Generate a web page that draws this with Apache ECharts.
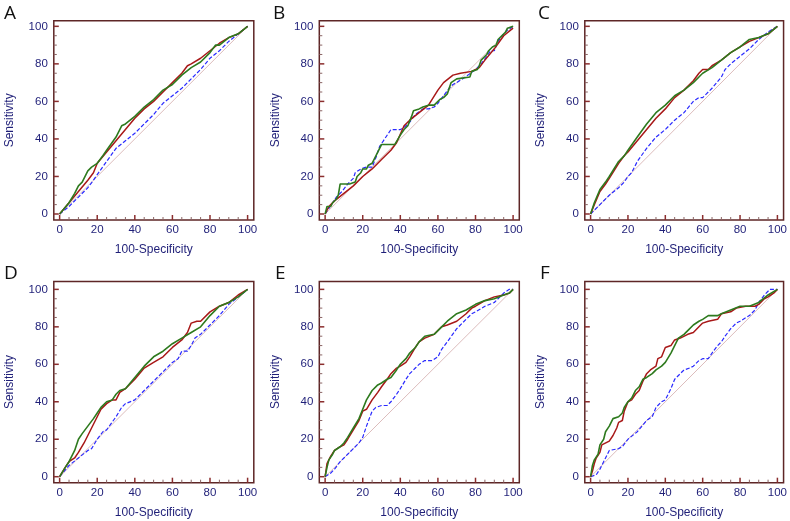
<!DOCTYPE html>
<html><head><meta charset="utf-8">
<script src="https://cdn.jsdelivr.net/npm/echarts@6/dist/echarts.min.js"></script>
<style>html,body{margin:0;padding:0;background:#fff}#c{width:790px;height:521px}</style>
</head><body><div id="c"></div>
<script>
const panelLetters = ['A','B','C','D','E','F'];
const majorTicks = [0,20,40,60,80,100];
const minorTicks = [5,10,15,25,30,35,45,50,55,65,70,75,85,90,95];
const xTitle = '100-Specificity';
const yTitle = 'Sensitivity';
const diagonal = [[0,0],[100,100]];

const aGreen = [[0,0],[5,6],[8,11],[10,15],[12,17],[15,23],[17,25],[20,27],[23,31],[25,34],[30,41],[33,47],[35,48],[40,52],[45,57],[50,61],[55,66],[60,69],[65,74],[70,78],[75,81],[80,86],[83,90],[85,90],[90,94],[95,96],[100,100]];
const aRed = [[0,0],[5,6],[10,12],[15,18],[18,22],[20,27],[25,33],[30,39],[35,45],[40,51],[45,56],[50,60],[55,65],[60,70],[65,75],[68,79],[70,80],[75,83],[80,87],[85,91],[90,94],[95,96],[100,100]];
const aBlue = [[0,0],[5,4],[10,9],[15,14],[18,18],[20,21],[25,28],[30,35],[35,39],[40,43],[45,48],[50,53],[55,59],[60,63],[65,67],[70,72],[75,77],[80,83],[85,87],[90,92],[95,96],[100,100]];

const bRed = [[0,0],[2,4],[5,7],[10,11],[15,15],[20,20],[25,24],[30,29],[35,34],[38,38],[42,47],[45,50],[50,54],[55,58],[60,66],[63,70],[68,74],[72,75],[78,76],[82,78],[85,82],[90,88],[95,95],[100,99]];
const bGreen = [[0,0],[1,4],[3,4],[4,6],[6,8],[7,10],[8,16],[13,16],[13,17],[16,17],[17,20],[19,22],[20,24],[22,24],[23,26],[25,27],[26,29],[27,31],[28,33],[29,35],[30,37],[37,37],[40,42],[42,45],[44,47],[46,52],[47,55],[50,56],[52,57],[55,58],[58,58],[59,59],[61,61],[63,62],[65,64],[66,67],[67,70],[68,71],[70,72],[77,73],[78,76],[81,77],[82,79],[83,82],[86,85],[87,87],[89,89],[91,90],[92,93],[94,95],[96,97],[97,99],[98,100],[100,100]];
const bBlue = [[0,0],[2,3],[4,6],[6,9],[9,12],[12,16],[15,19],[16,22],[19,24],[22,25],[25,25],[27,30],[29,36],[31,39],[35,45],[40,45],[42,46],[45,49],[48,53],[52,56],[55,56],[58,57],[60,59],[63,63],[66,67],[68,69],[70,70],[73,72],[76,74],[80,77],[83,80],[86,84],[88,87],[90,87],[92,92],[95,96],[97,98],[100,100]];

const cGreen = [[0,0],[2,6],[5,13],[8,17],[10,20],[15,28],[18,31],[20,34],[25,41],[30,48],[35,54],[40,58],[45,63],[50,66],[55,70],[58,73],[60,75],[65,78],[70,82],[75,86],[80,89],[85,93],[90,94],[95,96],[100,100]];
const cRed = [[0,0],[2,5],[5,12],[8,16],[10,19],[15,27],[18,31],[20,33],[25,39],[30,45],[35,51],[40,56],[45,62],[50,66],[55,71],[58,75],[60,77],[63,77],[65,79],[70,82],[75,86],[80,89],[85,92],[90,94],[95,96],[100,100]];
const cBlue = [[0,0],[5,5],[10,10],[15,14],[18,17],[20,20],[22,22],[25,28],[30,35],[35,41],[40,45],[45,50],[50,54],[55,60],[58,62],[60,62],[62,64],[65,67],[70,73],[72,77],[75,80],[80,84],[85,88],[90,93],[95,97],[100,100]];

const dGreen = [[0,0],[3,5],[5,8],[8,14],[10,20],[12,23],[15,27],[18,31],[20,34],[22,37],[25,40],[28,41],[30,44],[32,46],[35,47],[40,53],[45,59],[50,64],[55,67],[60,71],[65,74],[70,77],[75,80],[80,86],[85,91],[90,93],[95,96],[100,100]];
const dRed = [[0,0],[3,5],[5,8],[8,10],[10,13],[13,18],[15,22],[18,28],[20,32],[22,36],[25,39],[28,41],[30,41],[32,45],[35,47],[40,52],[45,58],[50,61],[55,64],[60,69],[65,73],[68,77],[70,82],[73,83],[75,83],[80,88],[85,91],[90,93],[95,97],[100,100]];
const dBlue = [[0,0],[5,6],[10,10],[15,14],[17,15],[20,20],[23,24],[25,25],[30,32],[33,37],[35,39],[40,41],[45,46],[50,51],[55,56],[60,61],[63,63],[65,67],[68,67],[70,70],[72,74],[75,76],[80,81],[85,86],[90,92],[95,96],[100,100]];

const eGreen = [[0,0],[1,5],[2,9],[3,10],[4,12],[5,14],[8,16],[10,18],[12,21],[15,26],[18,31],[20,36],[22,41],[25,46],[28,49],[30,50],[33,52],[35,53],[38,57],[40,60],[43,63],[45,66],[48,69],[50,72],[53,75],[58,76],[60,78],[62,80],[65,83],[70,87],[75,89],[80,92],[85,94],[90,95],[95,97],[98,98],[100,100]];
const eRed = [[0,0],[1,7],[2,9],[3,11],[5,14],[8,16],[10,17],[12,20],[15,25],[18,30],[20,35],[22,36],[25,41],[28,45],[30,48],[33,52],[35,55],[38,58],[40,59],[43,61],[45,64],[48,69],[50,72],[53,74],[58,76],[60,78],[62,80],[65,81],[70,83],[75,87],[78,90],[80,91],[85,94],[90,96],[95,97],[98,98],[100,100]];
const eBlue = [[0,0],[3,2],[5,4],[8,8],[10,10],[12,12],[15,15],[18,18],[20,21],[22,27],[25,35],[27,37],[30,38],[33,38],[35,40],[38,44],[40,47],[43,52],[45,55],[48,58],[50,60],[53,62],[57,62],[60,64],[62,68],[65,72],[70,79],[75,84],[78,87],[80,88],[85,91],[90,93],[95,98],[98,100],[100,100]];

const fRed = [[0,0],[1,3],[2,7],[3,10],[5,13],[6,17],[7,18],[10,19],[12,22],[14,26],[15,29],[17,30],[18,35],[20,40],[22,41],[24,44],[26,46],[28,51],[30,55],[32,57],[35,59],[36,63],[38,64],[40,69],[43,70],[45,73],[48,74],[52,76],[55,77],[58,80],[60,82],[63,83],[68,84],[70,87],[75,88],[78,90],[83,91],[88,91],[90,92],[93,95],[95,96],[98,98],[100,100]];
const fGreen = [[0,0],[1,6],[2,9],[4,12],[5,17],[7,20],[8,24],[10,27],[12,31],[15,32],[17,34],[18,37],[20,40],[22,42],[24,46],[26,48],[28,52],[30,53],[33,55],[35,57],[38,59],[40,61],[43,66],[45,70],[47,74],[50,76],[52,78],[55,81],[58,83],[60,84],[63,86],[68,86],[70,87],[75,89],[80,91],[85,91],[90,93],[95,97],[100,100]];
const fBlue = [[0,0],[3,1],[5,4],[8,10],[10,14],[15,15],[17,16],[20,20],[25,24],[30,30],[33,32],[35,37],[38,40],[40,41],[43,47],[45,52],[48,55],[50,57],[53,58],[55,59],[58,62],[60,63],[63,63],[65,66],[68,70],[70,72],[72,75],[75,79],[78,82],[80,83],[85,86],[88,89],[90,93],[93,97],[96,100],[100,100]];

const panels = [
  {red:aRed, green:aGreen, blue:aBlue},
  {red:bRed, green:bGreen, blue:bBlue},
  {red:cRed, green:cGreen, blue:cBlue},
  {red:dRed, green:dGreen, blue:dBlue},
  {red:eRed, green:eGreen, blue:eBlue},
  {red:fRed, green:fGreen, blue:fBlue}
];

const colLeft = [53.8, 319.3, 584.8];
const rowTop = [20.7, 281.5];
const rowH = [199.3, 201.2];
const rowYMin = [-3.2, -3.2];
const rowYMax = [103, 104.2];
const letterPos = [[4,4],[273,4],[538,4],[4,264],[275,264],[540,264]];

const FONT = '"Liberation Sans", Arial, sans-serif';
const NAVY = '#1f1f78';
const BORDER = '#5e2626';
const MAJOR_C = '#8b2e2e';
const MINOR_C = '#8a6464';

// tick descriptors built from the tick arrays: [value, value, axisKind(0=x,1=y), isMajor]
const tickData = [];
majorTicks.forEach(v => { tickData.push([v, v, 0, 1]); tickData.push([v, v, 1, 1]); });
minorTicks.forEach(v => { tickData.push([v, v, 0, 0]); tickData.push([v, v, 1, 0]); });

function renderTick(params, api) {
  const cs = params.coordSys;
  const v = api.value(0), kind = api.value(2), major = api.value(3) === 1;
  const len = major ? 5 : 3;
  const style = {stroke: major ? MAJOR_C : MINOR_C, lineWidth: major ? 1.5 : 1};
  if (kind === 0) {
    const px = api.coord([v, 0])[0];
    const yb = cs.y + cs.height;
    return {type: 'line', shape: {x1: px, y1: yb, x2: px, y2: yb - len}, style: style};
  } else {
    const py = api.coord([0, v])[1];
    return {type: 'line', shape: {x1: cs.x, y1: py, x2: cs.x + len, y2: py}, style: style};
  }
}

const grids = [], xAxes = [], yAxes = [], series = [], titles = [];

panels.forEach((p, i) => {
  const r = Math.floor(i / 3), c = i % 3;
  grids.push({left: colLeft[c], top: rowTop[r], width: 200, height: rowH[r],
    show: true, borderColor: BORDER, borderWidth: 1.5, backgroundColor: 'transparent', containLabel: false});
  const common = {type: 'value', gridIndex: i, axisLine: {show: false, onZero: false}, axisTick: {show: false}, splitLine: {show: false}};
  xAxes.push(Object.assign({}, common, {min: -3.1, max: 103.3, position: 'bottom',
    axisLabel: {customValues: majorTicks, color: NAVY, fontSize: 11.5, margin: 4, fontFamily: FONT},
    name: xTitle, nameLocation: 'middle', nameGap: 24, nameTextStyle: {color: NAVY, fontSize: 12, fontFamily: FONT}}));
  yAxes.push(Object.assign({}, common, {min: rowYMin[r], max: rowYMax[r], position: 'left',
    axisLabel: {customValues: majorTicks, color: NAVY, fontSize: 11.5, margin: 6, fontFamily: FONT},
    name: yTitle, nameLocation: 'middle', nameGap: 38, nameTextStyle: {color: NAVY, fontSize: 12, fontFamily: FONT}}));
  const base = {type: 'line', xAxisIndex: i, yAxisIndex: i, showSymbol: false, symbol: 'none', silent: true, animation: false};
  series.push({type: 'custom', xAxisIndex: i, yAxisIndex: i, data: tickData, renderItem: renderTick, silent: true, animation: false, z: 3});
  series.push(Object.assign({}, base, {data: diagonal, lineStyle: {color: '#dcbcbc', width: 1}}));
  series.push(Object.assign({}, base, {data: p.blue, lineStyle: {color: '#2a2aff', width: 1.2, type: [4, 2]}}));
  series.push(Object.assign({}, base, {data: p.red, lineStyle: {color: '#a81818', width: 1.5}}));
  series.push(Object.assign({}, base, {data: p.green, lineStyle: {color: '#2e7a1e', width: 1.6}}));
  titles.push({text: panelLetters[i], left: letterPos[i][0], top: letterPos[i][1], padding: 0,
    textStyle: {fontSize: 19, fontWeight: 'normal', color: '#111', fontFamily: '"Open Sans", "Noto Sans", sans-serif'}});
});

const chart = echarts.init(document.getElementById('c'), null, {renderer: 'canvas'});
chart.setOption({animation: false, title: titles, grid: grids, xAxis: xAxes, yAxis: yAxes, series: series});
</script>
</body></html>
